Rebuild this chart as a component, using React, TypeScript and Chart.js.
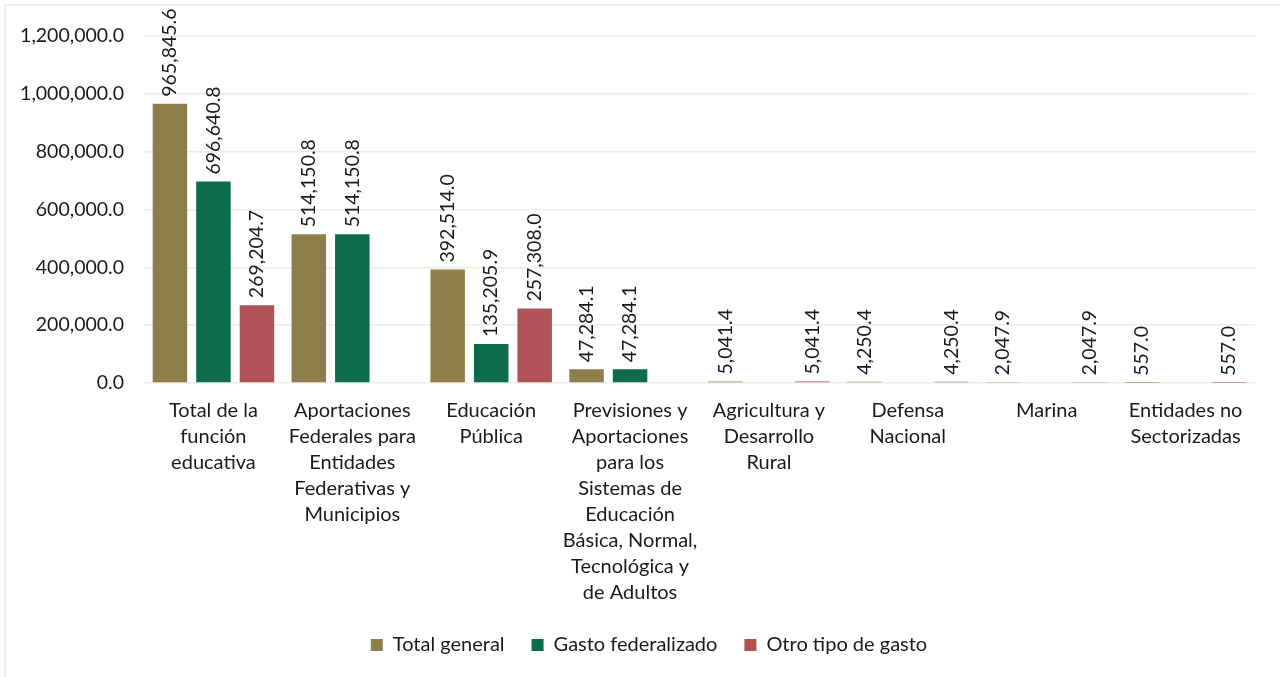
import React, { useEffect, useRef } from "react";
import { Chart, registerables } from "chart.js";

Chart.register(...registerables);

const categories: string[][] = [
  ["Total de la", "función", "educativa"],
  ["Aportaciones", "Federales para", "Entidades", "Federativas y", "Municipios"],
  ["Educación", "Pública"],
  ["Previsiones y", "Aportaciones", "para los", "Sistemas de", "Educación", "Básica, Normal,", "Tecnológica y", "de Adultos"],
  ["Agricultura y", "Desarrollo", "Rural"],
  ["Defensa", "Nacional"],
  ["Marina"],
  ["Entidades no", "Sectorizadas"],
];

const totalGeneral: (number | null)[] = [965845.6, 514150.8, 392514.0, 47284.1, 5041.4, 4250.4, 2047.9, 557.0];
const gastoFederalizado: (number | null)[] = [696640.8, 514150.8, 135205.9, 47284.1, null, null, null, null];
const otroTipoGasto: (number | null)[] = [269204.7, null, 257308.0, null, 5041.4, 4250.4, 2047.9, 557.0];

const seriesNames = ["Total general", "Gasto federalizado", "Otro tipo de gasto"];
const seriesColors = ["#8E7E4C", "#0F6B4E", "#B05357"];

const yTicks = { min: 0, max: 1200000, step: 200000 };

const FONT = "Lato, 'Open Sans', sans-serif";
const TEXT = "#1a1a1a";

const fmt = (v: number) =>
  v.toLocaleString("en-US", { minimumFractionDigits: 1, maximumFractionDigits: 1 });

const labelPlugin = {
  id: "barLabels",
  afterLayout(chart: any) {
    const lg = chart.legend;
    if (lg) {
      lg.left += 21.5;
      lg.right += 21.5;
    }
  },
  afterDatasetsDraw(chart: any) {
    const ctx = chart.ctx;
    ctx.save();
    ctx.font = `19.5px ${FONT}`;
    ctx.fillStyle = TEXT;
    ctx.textAlign = "left";
    ctx.textBaseline = "middle";
    chart.data.datasets.forEach((ds: any, di: number) => {
      const meta = chart.getDatasetMeta(di);
      meta.data.forEach((el: any, i: number) => {
        const v = ds.data[i];
        if (v === null || v === undefined) return;
        const x = el.x;
        const y = el.y - 7;
        ctx.save();
        ctx.translate(x, y);
        ctx.rotate(-Math.PI / 2);
        ctx.fillText(fmt(v), 0, 0);
        ctx.restore();
      });
    });
    ctx.restore();
  },
};

export default function App() {
  const ref = useRef<HTMLCanvasElement | null>(null);

  useEffect(() => {
    if (!ref.current) return;
    const data = [totalGeneral, gastoFederalizado, otroTipoGasto];
    const chart = new Chart(ref.current, {
      type: "bar",
      data: {
        labels: categories,
        datasets: seriesNames.map((name, i) => ({
          label: name,
          data: data[i],
          backgroundColor: seriesColors[i],
          borderWidth: 0,
          categoryPercentage: 0.94,
          barPercentage: 0.793,
        })),
      },
      options: {
        animation: false,
        responsive: true,
        maintainAspectRatio: false,
        layout: { padding: { top: 36, right: 25, bottom: 12, left: 0 } },
        plugins: {
          legend: {
            position: "bottom",
            labels: {
              font: { family: FONT, size: 20 },
              color: TEXT,
              boxWidth: 12,
              boxHeight: 12,
              padding: 27,
            },
          },
          tooltip: { enabled: false },
        },
        scales: {
          x: {
            grid: { display: false },
            border: { display: false },
            ticks: {
              autoSkip: false,
              maxRotation: 0,
              minRotation: 0,
              padding: 7,
              color: TEXT,
              font: { family: FONT, size: 20, lineHeight: 1.3 },
            },
            afterFit: (scale: any) => {
              scale.height = 225;
            },
          },
          y: {
            min: yTicks.min,
            max: yTicks.max,
            grid: { color: "#EDEDE6", lineWidth: 1.5, drawTicks: false },
            border: { display: false },
            ticks: {
              stepSize: yTicks.step,
              padding: 20,
              color: TEXT,
              font: { family: FONT, size: 19.5 },
              callback: (v: any) => fmt(Number(v)),
            },
            afterFit: (scale: any) => {
              scale.width = 144;
            },
          },
        },
      },
      plugins: [labelPlugin],
    });
    return () => chart.destroy();
  }, []);

  return (
    <div style={{ position: "absolute", left: 0, top: 0, width: 1280, height: 677, overflow: "hidden", background: "#fff" }}>
      <div
        style={{
          position: "absolute",
          left: 4,
          top: 4,
          width: 1290,
          height: 690,
          borderLeft: "2px solid #F0F0EC",
          borderTop: "2px solid #F0F0EC",
        }}
      />
      <div style={{ position: "absolute", left: 0, top: 0, width: 1280, height: 677 }}>
        <canvas ref={ref} />
      </div>
    </div>
  );
}
